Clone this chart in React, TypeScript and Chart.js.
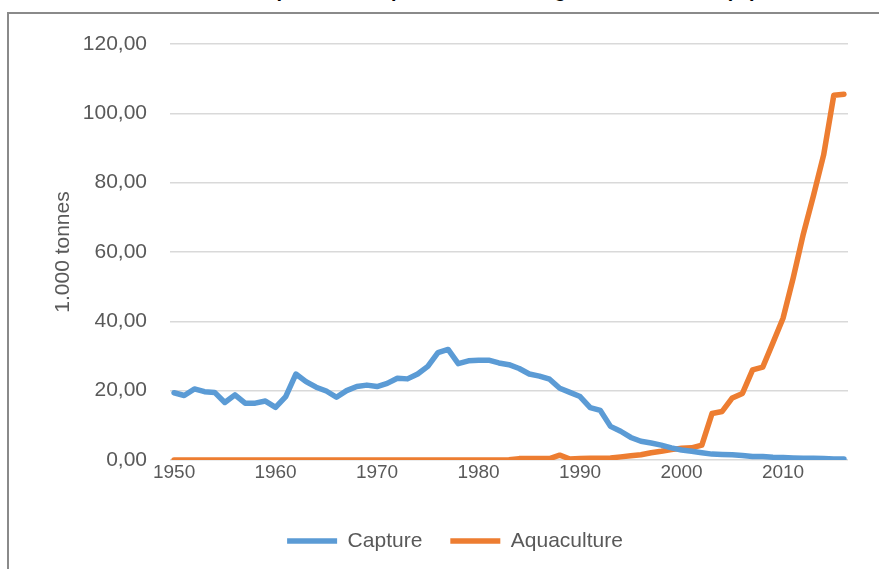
import React, { useEffect, useRef } from 'react';
import { Chart, registerables } from 'chart.js';

Chart.register(...registerables);

const TITLE = 'Total capture and aquaculture of sturgeon in the world (kt)';
const Y_TITLE = '1.000 tonnes';
const SERIES_NAMES = ['Capture', 'Aquaculture'];
const X_TICKS = [1950, 1960, 1970, 1980, 1990, 2000, 2010];
const Y_TICKS = [0, 20, 40, 60, 80, 100, 120];

const YEARS = [
  1950, 1951, 1952, 1953, 1954, 1955, 1956, 1957, 1958, 1959,
  1960, 1961, 1962, 1963, 1964, 1965, 1966, 1967, 1968, 1969,
  1970, 1971, 1972, 1973, 1974, 1975, 1976, 1977, 1978, 1979,
  1980, 1981, 1982, 1983, 1984, 1985, 1986, 1987, 1988, 1989,
  1990, 1991, 1992, 1993, 1994, 1995, 1996, 1997, 1998, 1999,
  2000, 2001, 2002, 2003, 2004, 2005, 2006, 2007, 2008, 2009,
  2010, 2011, 2012, 2013, 2014, 2015, 2016,
];

const CAPTURE = [
  19.4, 18.6, 20.5, 19.7, 19.5, 16.6, 18.8, 16.4, 16.4, 17.0,
  15.2, 18.3, 24.8, 22.6, 21.0, 19.9, 18.1, 20.0, 21.2, 21.6,
  21.2, 22.1, 23.6, 23.4, 24.8, 27.0, 31.0, 31.9, 27.8, 28.6,
  28.8, 28.8, 28.0, 27.5, 26.4, 24.8, 24.2, 23.3, 20.7, 19.5,
  18.3, 15.1, 14.3, 9.7, 8.3, 6.5, 5.4, 4.9, 4.3, 3.5,
  2.9, 2.5, 2.1, 1.7, 1.6, 1.5, 1.3, 1.0, 1.0, 0.8,
  0.7, 0.6, 0.5, 0.5, 0.4, 0.3, 0.3,
];

const AQUACULTURE = [
  0, 0, 0, 0, 0, 0, 0, 0, 0, 0,
  0, 0, 0, 0, 0, 0, 0, 0, 0, 0,
  0, 0, 0, 0, 0, 0, 0, 0, 0, 0,
  0, 0, 0, 0.1, 0.4, 0.4, 0.4, 0.4, 1.4, 0.3,
  0.4, 0.5, 0.5, 0.6, 0.9, 1.2, 1.5, 2.1, 2.5, 3.0,
  3.4, 3.5, 4.3, 13.4, 14.0, 17.9, 19.2, 26.0, 26.8, 33.8,
  40.9, 52.5, 65.2, 76.3, 88.0, 105.2, 105.5,
];

const FONT = "'Liberation Sans', Arial, sans-serif";
const TEXT = '#595959';

export default function App() {
  const ref = useRef<HTMLCanvasElement>(null);

  useEffect(() => {
    const chart = new Chart(ref.current as HTMLCanvasElement, {
      type: 'line',
      data: {
        datasets: [
          {
            label: SERIES_NAMES[0],
            data: YEARS.map((yr, i) => ({ x: yr, y: CAPTURE[i] })),
            borderColor: '#5B9BD5',
            backgroundColor: '#5B9BD5',
            borderWidth: 5.5,
            pointRadius: 0,
            borderCapStyle: 'round',
            borderJoinStyle: 'round',
            tension: 0,
          },
          {
            label: SERIES_NAMES[1],
            data: YEARS.map((yr, i) => ({ x: yr, y: AQUACULTURE[i] })),
            borderColor: '#ED7D31',
            backgroundColor: '#ED7D31',
            borderWidth: 5.5,
            pointRadius: 0,
            borderCapStyle: 'round',
            borderJoinStyle: 'round',
            tension: 0,
          },
        ],
      },
      options: {
        responsive: false,
        animation: false,
        layout: { padding: { left: 62, right: 31, top: 44, bottom: 7.5 } },
        scales: {
          x: {
            type: 'linear',
            min: 1949.6,
            max: 2016.4,
            afterBuildTicks: (s: any) => {
              s.ticks = X_TICKS.map((v) => ({ value: v }));
            },
            afterFit: (s: any) => {
              s.height = 42.5;
            },
            grid: { display: false },
            border: { display: false },
            ticks: {
              padding: -7,
              color: TEXT,
              maxRotation: 0,
              font: { family: FONT, size: 19 },
              callback: (v: any) => String(v),
            },
          },
          y: {
            type: 'linear',
            min: 0,
            max: 120,
            afterBuildTicks: (s: any) => {
              s.ticks = Y_TICKS.map((v) => ({ value: v }));
            },
            afterFit: (s: any) => {
              s.width = 108;
            },
            grid: { color: '#D9D9D9', lineWidth: 1.5, drawTicks: false },
            border: { display: false },
            ticks: {
              padding: 23,
              color: TEXT,
              font: { family: FONT, size: 21 },
              callback: (v: any) => Number(v).toFixed(2).replace('.', ','),
            },
            title: {
              display: true,
              text: Y_TITLE,
              color: TEXT,
              padding: { top: -11, bottom: 0 },
              font: { family: FONT, size: 21 },
            },
          },
        },
        plugins: {
          legend: {
            position: 'bottom',
            labels: {
              usePointStyle: true,
              pointStyle: 'line',
              pointStyleWidth: 50,
              padding: 28,
              color: TEXT,
              font: { family: FONT, size: 21 },
            },
          },
          tooltip: { enabled: false },
        },
      },
    } as any);
    return () => chart.destroy();
  }, []);

  return (
    <div
      style={{
        position: 'fixed',
        left: 0,
        top: 0,
        width: 879,
        height: 569,
        overflow: 'hidden',
        background: '#fff',
      }}
    >
      <div
        style={{
          position: 'absolute',
          left: 40,
          top: -21,
          width: 879,
          textAlign: 'center',
          fontFamily: FONT,
          fontWeight: 'bold',
          fontSize: 20,
          lineHeight: '22px',
          color: '#000',
          whiteSpace: 'nowrap',
        }}
      >
        {TITLE}
      </div>
      <div
        style={{
          position: 'absolute',
          left: 7,
          top: 12,
          width: 1000,
          height: 1000,
          border: '2px solid #8a8a8a',
          boxSizing: 'border-box',
        }}
      />
      <canvas
        ref={ref}
        width={879}
        height={569}
        style={{ position: 'absolute', left: 0, top: 0, width: 879, height: 569 }}
      />
    </div>
  );
}
